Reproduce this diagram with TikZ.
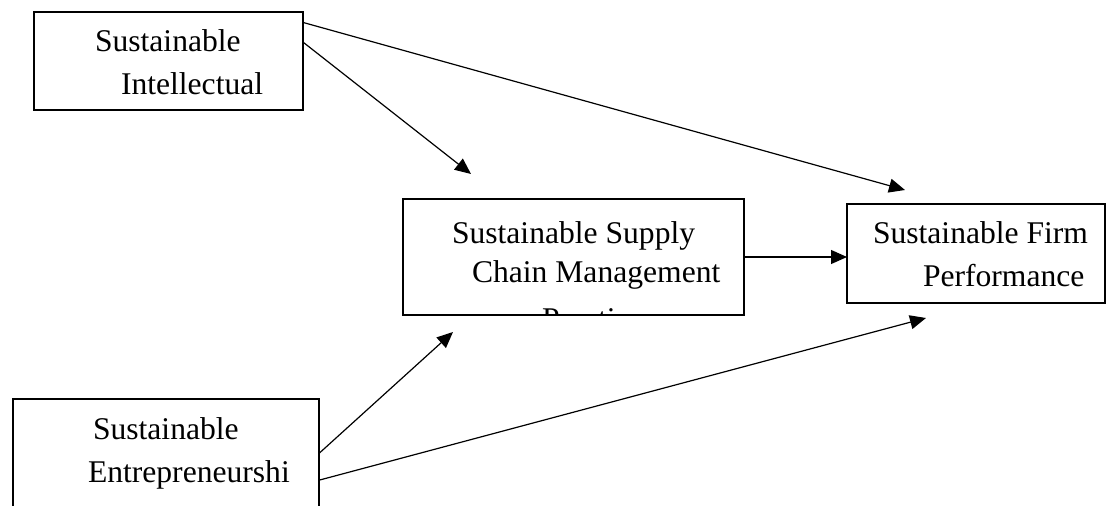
\documentclass[tikz,border=0pt]{standalone}
\usepackage{fontspec}
\setmainfont{Liberation Serif}
\usetikzlibrary{arrows.meta,calc}
\begin{document}
\begin{tikzpicture}[x=0.75pt,y=-0.75pt,
  box/.style={draw,line width=1.8pt,rectangle,inner sep=0pt,outer sep=0pt},
  txt/.style={anchor=base west,inner sep=0pt,outer sep=0pt,font=\fontsize{23.7pt}{28pt}\selectfont},
  arr/.style={line width=0.9pt,-{Triangle[length=12pt,width=10.5pt]}}]
\useasboundingbox (0,0) rectangle (1106,506);
\clip (0,0) rectangle (1106,506);
% boxes
\node[box,minimum width=201.75pt,minimum height=73.5pt] (b1) at (168.5,61) {};
\node[box,minimum width=255.75pt,minimum height=87pt] (b2) at (573.5,257) {};
\node[box,minimum width=229.5pt,minimum height=105.75pt] (b3) at (166,469.5) {};
\node[box,minimum width=193.5pt,minimum height=74.25pt] (b4) at (976,253.5) {};
% texts
\node[txt] (t1a) at (95,52) {Sustainable};
\node[txt] (t1b) at (121,95) {Intellectual};
\begin{scope}
\clip (404,200) rectangle (743,313);
\node[txt] (t2a) at (452,243) {Sustainable Supply};
\node[txt] (t2b) at (472,282) {Chain Management};
\node[txt] (t2c) at (542,329) {Practices};
\end{scope}
\node[txt] (t3a) at (93,439) {Sustainable};
\node[txt] (t3b) at (88,482) {Entrepreneurshi};
\node[txt] (t4a) at (873,243) {Sustainable Firm};
\node[txt] (t4b) at (923,286) {Performance};
% arrow tips
\coordinate (e1) at (905,190);
\coordinate (e2) at (471,174);
\coordinate (e3) at (453,332);
\coordinate (e4) at (926,318);
% connectors
\draw[arr] (b1.16.2) -- (e1);
\draw[arr] (b1.8.5) -- (e2);
\draw[arr] (b2.east) -- (b2.east -| b4.west);
\draw[arr] (b3.6.2) -- (e3);
\draw[arr] (b3.-4.7) -- (e4);
\end{tikzpicture}
\end{document}
